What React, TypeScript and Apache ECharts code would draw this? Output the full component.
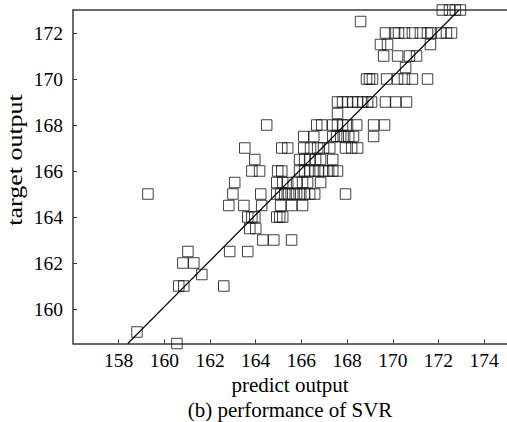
import React, { useEffect, useRef } from "react";
import * as echarts from "echarts";

// target output rows and the predicted outputs in each row
const targets = [
  158.5, 159, 161, 161.5, 162, 162.5, 163, 163.5, 164, 164.5, 165, 165.5, 166,
  166.5, 167, 167.5, 168, 168.5, 169, 170, 170.5, 171, 171.5, 172, 172.5, 173,
];
const predicted = [
  [160.55],
  [158.8],
  [160.63, 160.85, 162.6],
  [161.64],
  [160.81, 161.29],
  [161.03, 162.86, 163.65],
  [164.31, 164.79, 165.57],
  [163.74, 164.0],
  [163.65, 163.83, 163.96, 164.92, 165.05, 165.18],
  [162.82, 163.48, 164.26, 165.09, 165.57, 166.05],
  [159.28, 163.0, 164.22, 164.92, 165.09, 165.27, 165.44, 165.62, 165.79, 165.97, 166.14, 166.36, 166.58, 167.93],
  [163.08, 164.92, 165.18, 165.4, 165.79, 166.05, 166.27, 166.84],
  [163.83, 164.17, 164.96, 165.14, 165.92, 166.14, 166.36, 166.58, 166.75, 166.97, 167.19, 167.37, 167.58],
  [163.96, 165.92, 166.14, 166.36, 166.62, 166.84, 167.37],
  [163.52, 165.14, 165.4, 166.1, 166.4, 166.71, 166.97, 167.24, 167.93, 168.2, 168.46],
  [166.1, 166.54, 167.37, 167.54, 167.72, 167.89, 168.07, 168.28, 169.16],
  [164.48, 166.67, 166.89, 167.37, 167.58, 167.8, 168.02, 168.42, 169.16, 169.64],
  [167.58],
  [167.58, 167.8, 168.02, 168.24, 168.46, 168.68, 168.9, 169.07, 169.68, 170.12, 170.6],
  [168.85, 168.98, 169.11, 169.73, 170.21, 170.51, 170.86, 171.52],
  [170.56],
  [169.6, 170.21, 170.73, 171.04],
  [169.46, 169.77, 171.65],
  [169.68, 170.08, 170.25, 170.51, 170.86, 171.21, 171.52, 171.69, 172.09, 172.35, 172.57],
  [168.59],
  [172.17, 172.48, 172.74, 172.96],
];

// fitted line end points
const fitX = [158.4, 172.9];
const fitY = [158.5, 173.0];

const xTicks = [158, 160, 162, 164, 166, 168, 170, 172, 174];
const yTicks = [160, 162, 164, 166, 168, 170, 172];

const FONT = '"Liberation Serif", "DejaVu Serif", serif';

export default function App() {
  const ref = useRef<HTMLDivElement>(null);
  useEffect(() => {
    if (!ref.current) return;
    const chart = echarts.init(ref.current, null, { renderer: "svg" });
    const points: number[][] = [];
    targets.forEach((t, i) => {
      predicted[i].forEach((p) => points.push([p, t]));
    });
    const axisLine = { show: true, lineStyle: { color: "#3a3a3a", width: 1.5 } };
    chart.setOption({
      animation: false,
      backgroundColor: "#ffffff",
      grid: { left: 73, top: 10, right: 0, bottom: 78.5, containLabel: false },
      xAxis: [
        {
          type: "value",
          min: 156,
          max: 175,
          axisLine,
          splitLine: { show: false },
          axisTick: { show: true, inside: true, length: 4, customValues: xTicks, lineStyle: { color: "#3a3a3a" } },
          axisLabel: { customValues: xTicks, color: "#000", fontFamily: FONT, fontSize: 19.5, margin: 7 },
        },
        {
          type: "value",
          position: "top",
          min: 156,
          max: 175,
          axisLine,
          splitLine: { show: false },
          axisTick: { show: false },
          axisLabel: { show: false },
        },
      ],
      yAxis: {
        type: "value",
        min: 158.5,
        max: 173,
        axisLine,
        splitLine: { show: false },
        axisTick: { show: true, inside: true, length: 4, customValues: yTicks, lineStyle: { color: "#3a3a3a" } },
        axisLabel: { customValues: yTicks, color: "#000", fontFamily: FONT, fontSize: 19.5, margin: 10 },
      },
      series: [
        {
          type: "scatter",
          symbol: "rect",
          symbolSize: 10.5,
          data: points,
          itemStyle: { color: "rgba(0,0,0,0)", borderColor: "#111", borderWidth: 1 },
        },
        {
          type: "line",
          data: fitX.map((x, i) => [x, fitY[i]]),
          symbol: "none",
          lineStyle: { color: "#000", width: 1.1 },
        },
      ],
      graphic: [
        {
          type: "text",
          x: 15,
          y: 160,
          rotation: Math.PI / 2,
          scaleX: 1.3,
          style: { text: "target output", fontFamily: FONT, fontSize: 20, fill: "#000", align: "center", verticalAlign: "middle" },
        },
        {
          type: "text",
          x: 290,
          y: 385,
          style: { text: "predict output", fontFamily: FONT, fontSize: 21, fill: "#000", align: "center", verticalAlign: "middle" },
        },
        {
          type: "text",
          x: 290,
          y: 410,
          style: { text: "(b) performance of SVR", fontFamily: FONT, fontSize: 21, fill: "#000", align: "center", verticalAlign: "middle" },
        },
      ],
    });
    return () => chart.dispose();
  }, []);
  return (
    <div
      ref={ref}
      style={{ position: "absolute", left: 0, top: 0, width: 507, height: 422 }}
    />
  );
}
